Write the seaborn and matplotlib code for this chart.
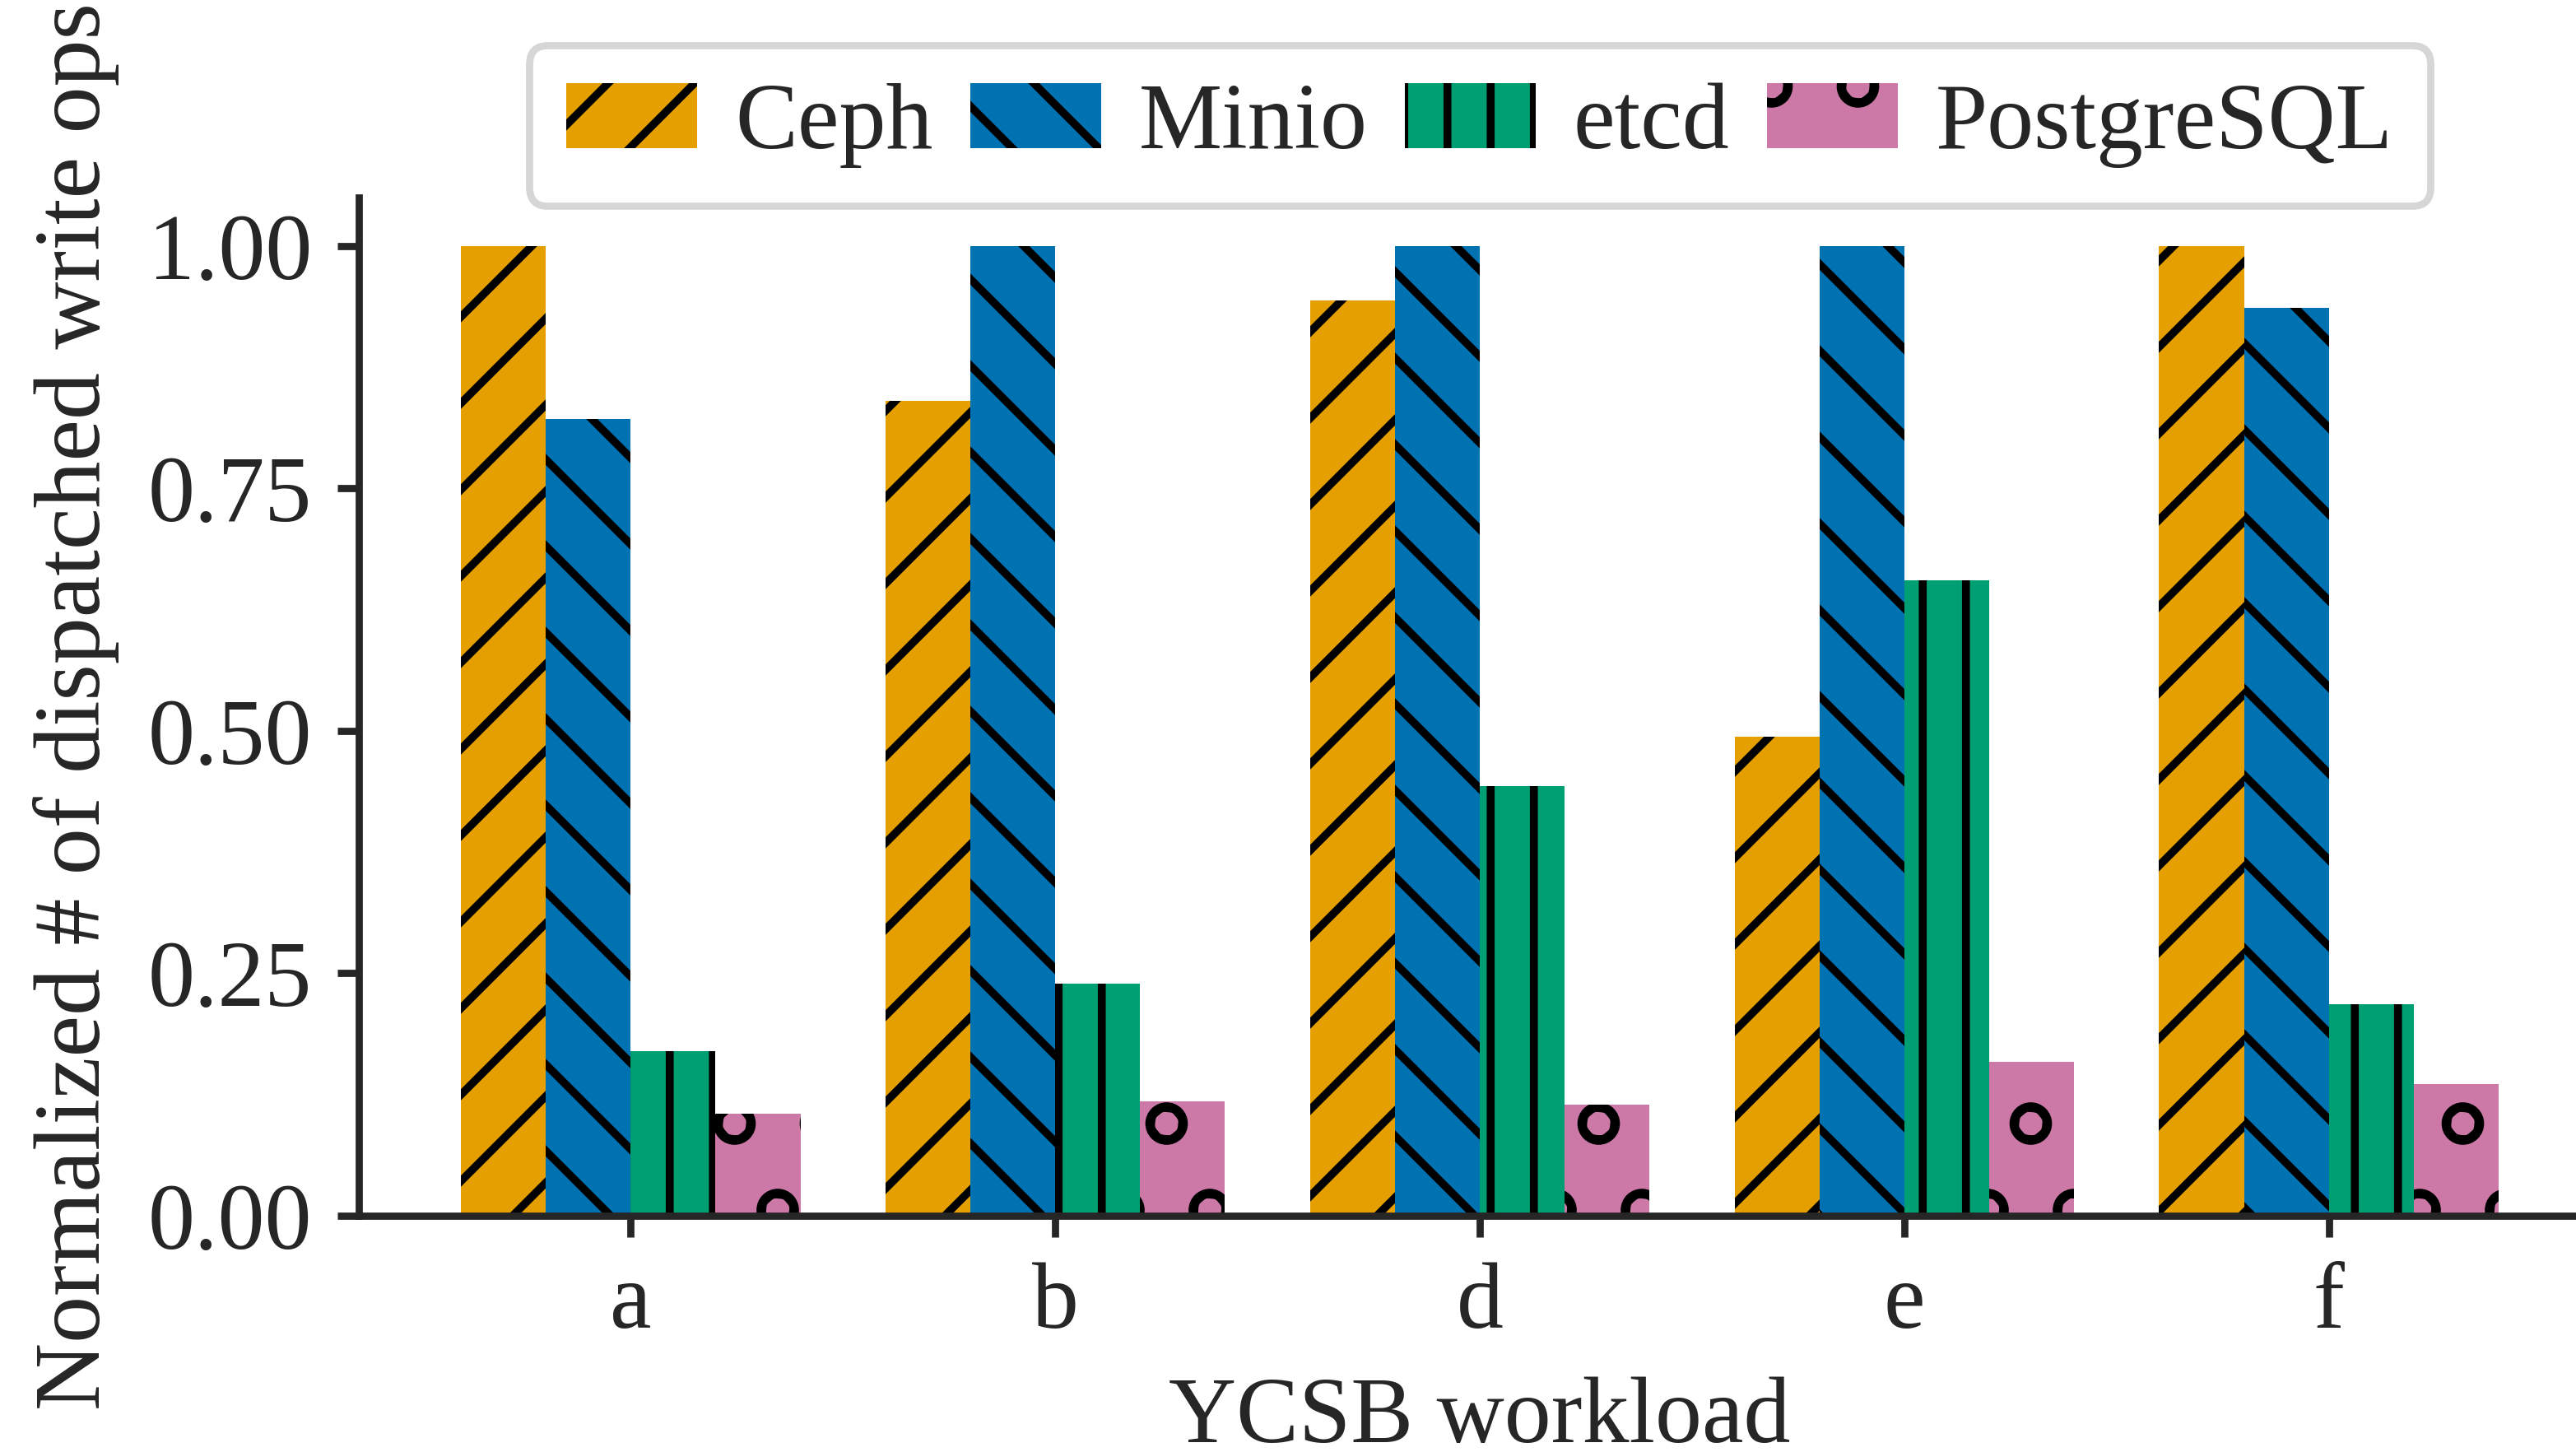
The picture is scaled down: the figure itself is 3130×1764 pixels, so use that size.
import pandas as pd
import seaborn as sns
import matplotlib.pyplot as plt
import matplotlib.patches as mpatches

# Values
workloads = ['a', 'b', 'd', 'e', 'f']
systems = ['Ceph', 'Minio', 'etcd', 'PostgreSQL']
ceph = [1.00, 0.840, 0.944, 0.494, 1.00]
minio = [0.822, 1.00, 1.00, 1.00, 0.936]
etcd = [0.170, 0.239, 0.443, 0.655, 0.218]
postgres = [0.105, 0.118, 0.115, 0.159, 0.136]

colors = ['#E69F00', '#0072B2', '#009E73', '#CC79A7']
hatches = ['//', '\\\\', '||', 'o']

# Long format for seaborn
rows = []
for name, vals in zip(systems, [ceph, minio, etcd, postgres]):
    for w, v in zip(workloads, vals):
        rows.append({'workload': w, 'system': name, 'value': v})
df = pd.DataFrame(rows)

sns.set_style('ticks')
plt.rcParams['font.family'] = ['Liberation Serif', 'DejaVu Serif']
plt.rcParams['font.size'] = 13
plt.rcParams['hatch.linewidth'] = 1.1
plt.rcParams['axes.linewidth'] = 1.0
plt.rcParams['xtick.major.width'] = 1.0
plt.rcParams['ytick.major.width'] = 1.0
plt.rcParams['xtick.major.size'] = 3.0
plt.rcParams['ytick.major.size'] = 3.0

fig = plt.figure(figsize=(3130 / 630, 1764 / 630), dpi=630)
ax = fig.add_axes([0.1393, 0.1627, 0.8703, 0.7013])

sns.barplot(data=df, x='workload', y='value', hue='system', order=workloads,
            hue_order=systems, palette=colors, saturation=1, errorbar=None,
            width=0.8, linewidth=0, edgecolor='black', legend=False, ax=ax)

for cont, h in zip(ax.containers, hatches):
    for bar in cont:
        bar.set_hatch(h)
        bar.set_edgecolor('black')
        bar.set_linewidth(0)

ax.set_xlim(-0.64, 4.64)
ax.set_ylim(0, 1.05)
ax.set_yticks([0, 0.25, 0.5, 0.75, 1.0])
ax.set_yticklabels(['0.00', '0.25', '0.50', '0.75', '1.00'])
ax.set_xlabel('YCSB workload', fontsize=13)
ax.set_ylabel('Normalized # of dispatched write ops', fontsize=13)
ax.tick_params(labelsize=13)
sns.despine(ax=ax)

handles = [mpatches.Patch(facecolor=c, hatch=h, edgecolor='black', linewidth=0, label=s)
           for c, h, s in zip(colors, hatches, systems)]
ax.legend(handles=handles, loc='lower center', bbox_to_anchor=(0.5, 0.992),
          ncol=4, fontsize=13, handlelength=1.4, handletextpad=0.4,
          columnspacing=0.4, borderaxespad=0, frameon=True)

fig.savefig('out.png', dpi=630)
